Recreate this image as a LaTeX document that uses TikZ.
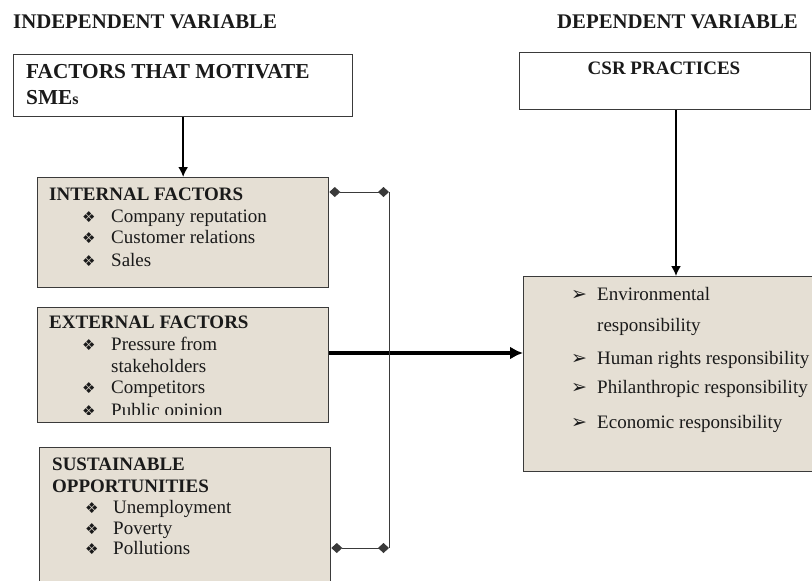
\documentclass[tikz,border=0pt]{standalone}
\usepackage{fontspec}
\setmainfont{Liberation Serif}
\newfontfamily\dingfont{DejaVu Sans}
\usepackage{tikz}
\usetikzlibrary{positioning,arrows.meta}
\usepackage{xcolor}
\definecolor{paper}{HTML}{E5DFD4}
\definecolor{rim}{HTML}{3A3A3A}
\definecolor{ink}{HTML}{1A1A1A}
\newcommand{\dia}{{\dingfont\fontsize{15}{15}\selectfont ❖}}
\newcommand{\pointer}{{\dingfont\fontsize{19}{19}\selectfont ➢}}

\begin{document}
\begin{tikzpicture}[x=1pt,y=-1pt,>=Latex,
    plain/.style={draw=rim, line width=1.3pt, fill=white, anchor=north west, inner sep=0pt},
    panel/.style={plain, fill=paper},
    heading/.style={text=ink, font=\bfseries\fontsize{19}{22}\selectfont, anchor=base west, inner sep=0pt},
    title/.style={heading, font=\bfseries\fontsize{20.8}{24}\selectfont},
    item/.style={text=ink, font=\fontsize{19}{22}\selectfont, anchor=base west, inner sep=0pt},
    link/.style={line width=1.8pt, -{Latex[length=10pt,width=10pt]}},
    bigl/.style={line width=3.6pt, -{Latex[length=13pt,width=13pt]}},
    tie/.style={line width=1pt, rim, {Diamond[length=11pt,width=10pt]}-{Diamond[length=11pt,width=10pt]}}]
  \clip (0,0) rectangle (812,581);
  \fill[white] (0,0) rectangle (812,581);

  % titles
  \node[title] (indep) at (13,28) {INDEPENDENT VARIABLE};
  \node[title] (dep) at (557,28) {DEPENDENT VARIABLE};

  % boxes
  \node[plain, minimum width=339pt, minimum height=62pt] (motive) at (13,54) {};
  \node[plain, minimum width=291pt, minimum height=57pt] (csr) at (519,52) {};
  \node[panel, minimum width=291pt, minimum height=110pt] (internal) at (37,177) {};
  \node[panel, minimum width=291pt, minimum height=115pt] (external) at (37,307) {};
  \node[panel, minimum width=291pt, minimum height=150pt] (sustain) at (39,447) {};
  \node[panel, minimum width=300pt, minimum height=195pt] (practices) at (523,276) {};

  \node[title, font=\bfseries\fontsize{21.3}{24}\selectfont] (motive1) at (26,78) {FACTORS THAT MOTIVATE};
  \node[title, font=\bfseries\fontsize{21.3}{24}\selectfont] (motive2) at (26,104) {SME{\fontsize{16}{18}\selectfont s}};
  \node[heading, anchor=base] (csrtext) at (664,74) {CSR PRACTICES};

  % internal factors
  \node[heading] (inthead) at (49,200) {INTERNAL FACTORS};
  \foreach \y/\t [count=\i] in {222/Company reputation,243/Customer relations,266/Sales}{
    \node[item] (intb\i) at (82,\y) {\dia};
    \node[item] (int\i) at (111,\y) {\t};
  }

  % external factors, last line cut by the box
  \begin{scope}
    \clip (37,307) rectangle (328,414);
    \node[heading] (exthead) at (49,328) {EXTERNAL FACTORS};
    \foreach \y/\t [count=\i] in {350/Pressure from,393/Competitors,416/Public opinion}{
      \node[item] (extb\i) at (82,\y) {\dia};
      \node[item] (ext\i) at (111,\y) {\t};
    }
    \node[item] (ext4) at (111,372) {stakeholders};
  \end{scope}

  % sustainable opportunities
  \node[heading] (susthead1) at (52,470) {SUSTAINABLE};
  \node[heading] (susthead2) at (52,492) {OPPORTUNITIES};
  \foreach \y/\t [count=\i] in {513/Unemployment,534/Poverty,554/Pollutions}{
    \node[item] (sustb\i) at (85,\y) {\dia};
    \node[item] (sust\i) at (113,\y) {\t};
  }

  % csr practices
  \foreach \y/\t [count=\i] in {300/Environmental,364/Human rights responsibility,393/Philanthropic responsibility,428/Economic responsibility}{
    \node[item] (prab\i) at (571,\y) {\pointer};
    \node[item] (pra\i) at (597,\y) {\t};
  }
  \node[item] (pra5) at (597,331) {responsibility};

  % connectors
  \coordinate (csrfoot) at (676,110);
  \coordinate (mid) at (0,353);
  \coordinate (jtop) at (389,192);
  \coordinate (jbot) at (389,548);
  \draw[link] (motive.south) -- (internal.north);
  \draw[link] (csr.south -| csrfoot) -- (practices.north -| csrfoot);
  \draw[bigl] (external.east |- mid) -- (practices.west |- mid);
  \draw[tie] (internal.east |- jtop) -- (jtop);
  \draw[line width=1pt, rim] (jtop) -- (jbot);
  \draw[tie] (jbot) -- (sustain.east |- jbot);
\end{tikzpicture}
\end{document}
